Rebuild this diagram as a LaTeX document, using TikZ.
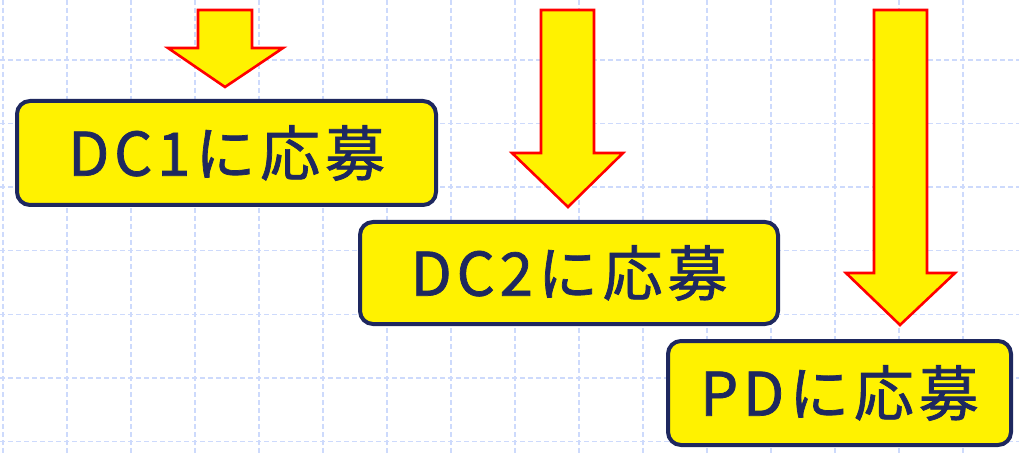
\documentclass[tikz,border=0pt]{standalone}
\usepackage{fontspec}
\newfontfamily\jpfont[LetterSpace=8,FakeBold=1.2]{Noto Sans CJK JP}
\definecolor{navy}{RGB}{30,40,95}
\definecolor{gridblue}{RGB}{205,218,252}
\begin{document}
\begin{tikzpicture}[x=1pt,y=-1pt,
  gridline/.style={draw=gridblue,line width=1.4pt,dash pattern=on 5pt off 3pt},
  bigarrow/.style={draw=red,fill=yellow,line width=2.6pt,line join=miter},
  applybox/.style={draw=navy,fill=yellow,line width=4pt,rounded corners=13pt,
    text=navy,font=\jpfont\fontsize{60}{64}\selectfont,inner sep=0pt,align=center}]
\useasboundingbox (0,0) rectangle (1019,454);
\fill[white] (0,0) rectangle (1019,454);
% grid
\foreach \i in {0,...,15} {\draw[gridline] (3+64*\i,0) -- (3+64*\i,454);}
\foreach \j in {0,...,6} {\draw[gridline] (0,60+63.6*\j) -- (1019,60+63.6*\j);}
% arrows
\draw[bigarrow] (198,10) -- (252,10) -- (252,48) -- (283,48) -- (225,87) -- (168,48) -- (198,48) -- cycle;
\draw[bigarrow] (541,10) -- (594,10) -- (594,153) -- (623,153) -- (568,207) -- (512,153) -- (541,153) -- cycle;
\draw[bigarrow] (874,10) -- (927,10) -- (927,273) -- (955,273) -- (900,325) -- (846,273) -- (874,273) -- cycle;
% boxes
\node[applybox,minimum width=419pt,minimum height=104pt] (dc1) at (226.5,153) {DC1に応募};
\node[applybox,minimum width=418pt,minimum height=102pt] (dc2) at (569,273) {DC2に応募};
\node[applybox,minimum width=343pt,minimum height=104pt] (pd) at (839.5,393) {PDに応募};
\end{tikzpicture}
\end{document}
